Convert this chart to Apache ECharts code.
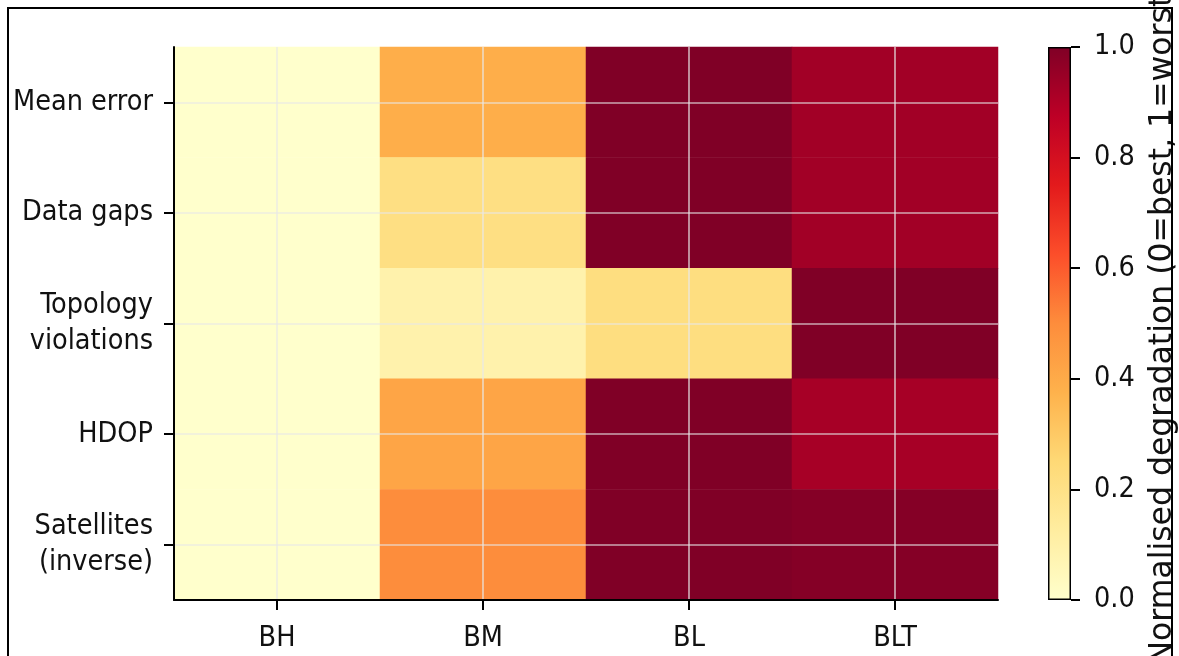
<!DOCTYPE html>
<html>
<head>
<meta charset="utf-8">
<script src="https://cdn.jsdelivr.net/npm/echarts@6/dist/echarts.min.js"></script>
<style>
  html, body { margin: 0; padding: 0; background: #fff; }
  #chart { width: 1179px; height: 656px; }
</style>
</head>
<body>
<div id="chart"></div>
<script>
// Scenarios (columns) and metrics (rows)
const conditions = ['BH', 'BM', 'BL', 'BLT'];
const metrics = ['Mean error', 'Data gaps', 'Topology\nviolations', 'HDOP', 'Satellites\n(inverse)'];

// Normalised degradation per metric, one value per scenario
const meanError  = [0.00, 0.39, 1.00, 0.93];
const dataGaps   = [0.00, 0.21, 1.00, 0.93];
const topology   = [0.00, 0.09, 0.22, 1.00];
const hdop       = [0.00, 0.42, 1.00, 0.92];
const satellites = [0.00, 0.50, 1.00, 0.99];

// Colour bar ticks
const colorbarTicks = [0.0, 0.2, 0.4, 0.6, 0.8, 1.0];

// YlOrRd colour ramp
const ylOrRd = ['#ffffcc', '#ffeda0', '#fed976', '#feb24c', '#fd8d3c',
                '#fc4e2a', '#e31a1c', '#bd0026', '#800026'];

const rows = [meanError, dataGaps, topology, hdop, satellites];
const cells = [];
rows.forEach((vals, r) => vals.forEach((v, c) => cells.push([c, r, v])));

const FONT = 'DejaVu Sans Condensed';
const FS = 28.5;
const TXT = '#111';
const gridLineStyle = { color: 'rgba(232,232,232,0.72)', width: 1.7, type: 'solid' };

const chart = echarts.init(document.getElementById('chart'));
chart.setOption({
  animation: false,
  backgroundColor: '#fff',
  textStyle: { fontFamily: FONT },
  graphic: [{
    type: 'rect',
    shape: { x: 8, y: 8, width: 1164, height: 720 },
    style: { fill: 'none', stroke: '#000', lineWidth: 2 },
    z: 100
  }],
  grid: [
    { left: 174, right: 181, top: 47, bottom: 56, outerBoundsMode: 'none', containLabel: false },
    { left: 1048, width: 23, top: 47, bottom: 56, outerBoundsMode: 'none', containLabel: false }
  ],
  xAxis: [{
    type: 'category', gridIndex: 0, data: conditions, z: 10,
    axisLine: { show: true, lineStyle: { color: '#000', width: 2 } },
    axisTick: { show: true, alignWithLabel: true, length: 10, lineStyle: { color: '#000', width: 2 } },
    axisLabel: { color: TXT, fontSize: FS, fontFamily: FONT, margin: 24 },
    splitLine: { show: false }
  }, {
    type: 'category', gridIndex: 1, data: ['cb'], show: false
  }],
  yAxis: [{
    type: 'category', gridIndex: 0, data: metrics, inverse: true, z: 10,
    axisLine: { show: true, lineStyle: { color: '#000', width: 2 } },
    axisTick: { show: true, alignWithLabel: true, length: 10, lineStyle: { color: '#000', width: 2 } },
    axisLabel: { color: TXT, fontSize: FS, fontFamily: FONT, margin: 21, lineHeight: 36 },
    splitLine: { show: false }
  }, {
    type: 'value', gridIndex: 1, position: 'right', z: 10,
    min: colorbarTicks[0], max: colorbarTicks[colorbarTicks.length - 1], interval: 0.2,
    axisLine: { show: false },
    axisTick: { show: true, length: 9, lineStyle: { color: '#000', width: 2 } },
    axisLabel: { color: TXT, fontSize: FS, fontFamily: FONT, margin: 23,
                 formatter: v => v.toFixed(1) },
    splitLine: { show: false },
    name: 'Normalised degradation (0=best, 1=worst)',
    nameLocation: 'middle', nameRotate: 90, nameGap: 76,
    nameTextStyle: { color: TXT, fontSize: 31.5, fontFamily: 'DejaVu Sans' }
  }],
  visualMap: {
    show: false, type: 'continuous', min: 0, max: 1, seriesIndex: 0,
    inRange: { color: ylOrRd }
  },
  series: [{
    type: 'heatmap',
    xAxisIndex: 0, yAxisIndex: 0,
    data: cells,
    itemStyle: { borderWidth: 0 },
    emphasis: { disabled: true },
    markLine: {
      silent: true, symbol: 'none', label: { show: false },
      lineStyle: gridLineStyle,
      data: conditions.map(c => ({ xAxis: c })).concat(metrics.map(m => ({ yAxis: m })))
    }
  }, {
    type: 'bar',
    xAxisIndex: 1, yAxisIndex: 1,
    data: [colorbarTicks[colorbarTicks.length - 1]],
    barWidth: '100%',
    silent: true,
    itemStyle: {
      borderColor: '#000', borderWidth: 1.5,
      color: new echarts.graphic.LinearGradient(0, 1, 0, 0,
        ylOrRd.map((c, i) => ({ offset: i / (ylOrRd.length - 1), color: c })))
    }
  }]
});
</script>
</body>
</html>
